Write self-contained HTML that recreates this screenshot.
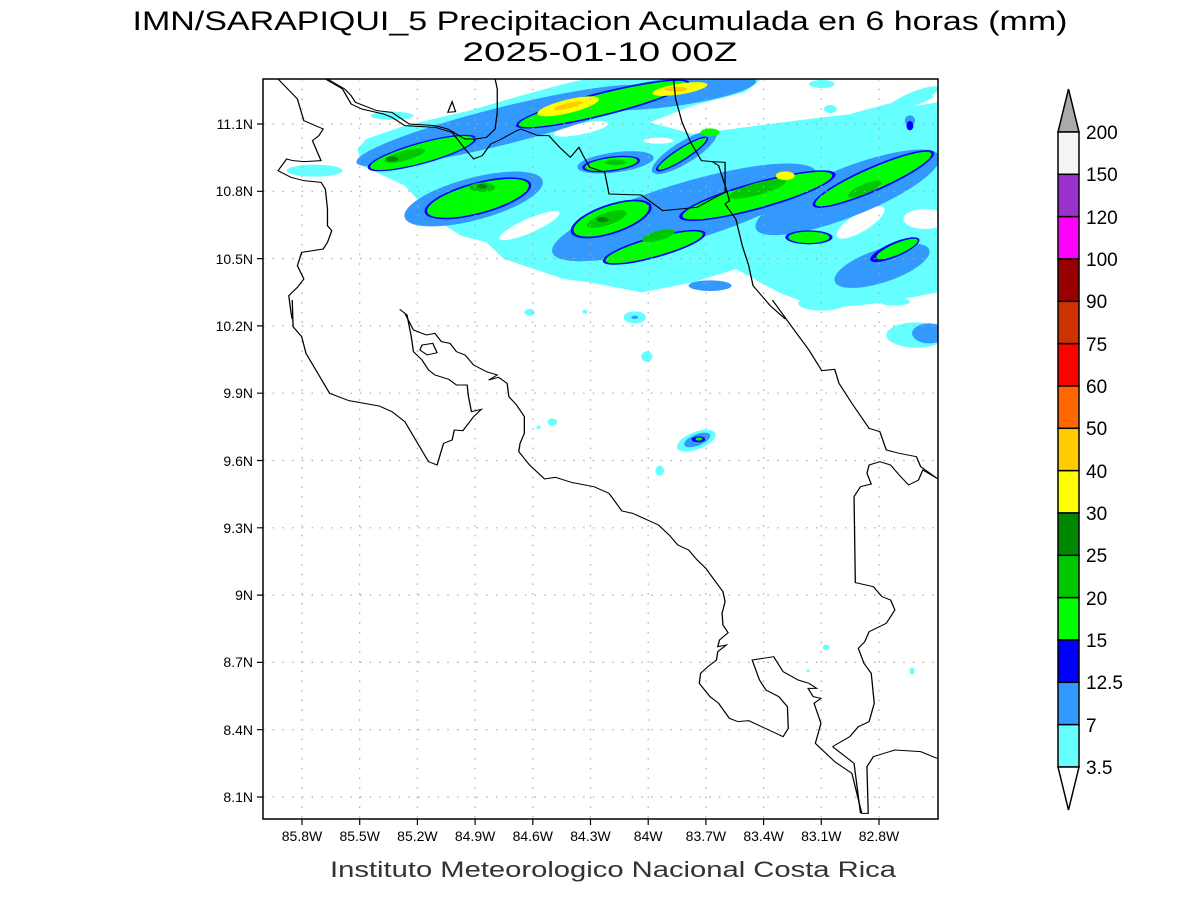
<!DOCTYPE html>
<html><head><meta charset="utf-8"><style>
html,body{margin:0;padding:0;background:#fff;}
svg{display:block;}
text{font-family:"Liberation Sans",sans-serif;}
</style></head><body>
<svg width="1200" height="900" viewBox="0 0 1200 900" xmlns="http://www.w3.org/2000/svg">
<defs><clipPath id="pc"><rect x="263" y="79" width="675" height="740"/></clipPath></defs>
<rect width="1200" height="900" fill="#fff"/>
<text x="600" y="30" font-size="27" text-anchor="middle" textLength="935" lengthAdjust="spacingAndGlyphs" fill="#000">IMN/SARAPIQUI_5 Precipitacion Acumulada en 6 horas (mm)</text>
<text x="600" y="61" font-size="27" text-anchor="middle" textLength="275" lengthAdjust="spacingAndGlyphs" fill="#000">2025-01-10 00Z</text>

<g clip-path="url(#pc)">
<g transform="translate(263,79) scale(0.42985,0.33333)">
<g fill="#66ffff">
<polygon points="220,210 240,180 330,140 480,95 600,50 700,15 750,0 1160,0 1120,40 1000,80 900,130 1000,165 1150,140 1300,115 1450,95 1568,70 1568,640 1450,670 1300,690 1200,640 1100,570 1000,610 880,640 760,610 700,600 560,540 520,490 460,470 400,420 330,320 280,290 230,260"/>
<ellipse cx="120" cy="275" rx="65" ry="18"/>
<ellipse cx="300" cy="110" rx="50" ry="12"/>
<ellipse cx="1300" cy="15" rx="30" ry="12"/>
<ellipse cx="1320" cy="90" rx="15" ry="12"/>
<ellipse cx="1400" cy="110" rx="170" ry="16" transform="rotate(-20 1400 110)"/>
<ellipse cx="1510" cy="60" rx="70" ry="18" transform="rotate(-30 1510 60)"/>
</g>
<g fill="#fff">
<ellipse cx="740" cy="150" rx="65" ry="16" transform="rotate(-15 740 150)"/>
<ellipse cx="920" cy="185" rx="35" ry="9"/>
<ellipse cx="990" cy="390" rx="55" ry="18" transform="rotate(-15 990 390)"/>
<ellipse cx="1390" cy="430" rx="70" ry="25" transform="rotate(-40 1390 430)"/>
<ellipse cx="1540" cy="420" rx="50" ry="30"/>
<ellipse cx="620" cy="440" rx="80" ry="20" transform="rotate(-30 620 440)"/>
</g>
<g fill="#3399ff">
<ellipse cx="560" cy="140" rx="360" ry="55" transform="rotate(-18 560 140)"/>
<ellipse cx="950" cy="40" rx="200" ry="42" transform="rotate(-10 950 40)"/>
<ellipse cx="490" cy="360" rx="170" ry="62" transform="rotate(-20 490 360)"/>
<ellipse cx="980" cy="400" rx="330" ry="85" transform="rotate(-22 980 400)"/>
<ellipse cx="1360" cy="340" rx="240" ry="70" transform="rotate(-28 1360 340)"/>
<ellipse cx="1440" cy="560" rx="120" ry="48" transform="rotate(-25 1440 560)"/>
<ellipse cx="1040" cy="620" rx="50" ry="16"/>
<ellipse cx="820" cy="250" rx="90" ry="30" transform="rotate(-10 820 250)"/>
<ellipse cx="980" cy="220" rx="95" ry="30" transform="rotate(-40 980 220)"/>
<ellipse cx="1505" cy="125" rx="12" ry="16"/>
</g>
<g fill="#0000ff">
<ellipse cx="370" cy="222" rx="134" ry="32" transform="rotate(-20 370 222)"/>
<ellipse cx="500" cy="358" rx="131" ry="47" transform="rotate(-20 500 358)"/>
<ellipse cx="790" cy="75" rx="212" ry="35" transform="rotate(-18 790 75)"/>
<ellipse cx="810" cy="255" rx="68" ry="22" transform="rotate(-10 810 255)"/>
<ellipse cx="975" cy="225" rx="78" ry="18" transform="rotate(-40 975 225)"/>
<ellipse cx="810" cy="420" rx="102" ry="43" transform="rotate(-25 810 420)"/>
<ellipse cx="1150" cy="350" rx="193" ry="40" transform="rotate(-20 1150 350)"/>
<ellipse cx="1420" cy="300" rx="162" ry="35" transform="rotate(-30 1420 300)"/>
<ellipse cx="1270" cy="475" rx="55" ry="21"/>
<ellipse cx="1470" cy="512" rx="65" ry="21" transform="rotate(-30 1470 512)"/>
<ellipse cx="910" cy="505" rx="127" ry="31" transform="rotate(-20 910 505)"/>
<ellipse cx="1505" cy="140" rx="8" ry="14"/>
</g>
<g fill="#00ff00">
<ellipse cx="370" cy="222" rx="128" ry="28" transform="rotate(-20 370 222)"/>
<ellipse cx="500" cy="358" rx="125" ry="42" transform="rotate(-20 500 358)"/>
<ellipse cx="790" cy="75" rx="205" ry="30" transform="rotate(-18 790 75)"/>
<ellipse cx="810" cy="255" rx="62" ry="18" transform="rotate(-10 810 255)"/>
<ellipse cx="975" cy="225" rx="72" ry="14" transform="rotate(-40 975 225)"/>
<ellipse cx="810" cy="420" rx="95" ry="38" transform="rotate(-25 810 420)"/>
<ellipse cx="1150" cy="350" rx="185" ry="35" transform="rotate(-20 1150 350)"/>
<ellipse cx="1420" cy="300" rx="155" ry="30" transform="rotate(-30 1420 300)"/>
<ellipse cx="1270" cy="475" rx="48" ry="17"/>
<ellipse cx="1475" cy="510" rx="55" ry="16" transform="rotate(-30 1475 510)"/>
<ellipse cx="910" cy="505" rx="120" ry="26" transform="rotate(-20 910 505)"/>
<ellipse cx="1040" cy="160" rx="22" ry="12"/>
</g>
<g fill="#00c800">
<ellipse cx="330" cy="230" rx="50" ry="14" transform="rotate(-20 330 230)"/>
<ellipse cx="510" cy="325" rx="30" ry="14"/>
<ellipse cx="800" cy="420" rx="50" ry="18" transform="rotate(-25 800 420)"/>
<ellipse cx="920" cy="470" rx="40" ry="14" transform="rotate(-20 920 470)"/>
<ellipse cx="1150" cy="330" rx="70" ry="18" transform="rotate(-20 1150 330)"/>
<ellipse cx="1400" cy="330" rx="45" ry="14" transform="rotate(-30 1400 330)"/>
<ellipse cx="820" cy="250" rx="25" ry="8"/>
</g>
<g fill="#008800">
<ellipse cx="300" cy="240" rx="14" ry="8"/>
<ellipse cx="510" cy="322" rx="12" ry="7"/>
<ellipse cx="790" cy="422" rx="14" ry="8"/>
</g>
<g fill="#ffff00">
<ellipse cx="710" cy="82" rx="75" ry="20" transform="rotate(-18 710 82)"/>
<ellipse cx="970" cy="30" rx="65" ry="16" transform="rotate(-12 970 30)"/>
<ellipse cx="1215" cy="290" rx="22" ry="13"/>
</g>
<g fill="#ffcc00">
<ellipse cx="710" cy="80" rx="35" ry="8" transform="rotate(-18 710 80)"/>
<ellipse cx="960" cy="30" rx="28" ry="7"/>
</g>
</g>
<g transform="translate(263,300) scale(0.42985,0.33333)">
<g fill="#66ffff">
<ellipse cx="620" cy="37" rx="12" ry="10"/>
<ellipse cx="749" cy="35" rx="6" ry="6"/>
<ellipse cx="865" cy="52" rx="26" ry="18"/>
<ellipse cx="893" cy="170" rx="13" ry="16"/>
<ellipse cx="673" cy="366" rx="11" ry="11"/>
<ellipse cx="641" cy="382" rx="5" ry="5"/>
<ellipse cx="1008" cy="422" rx="50" ry="25" transform="rotate(-30 1008 422)"/>
<ellipse cx="923" cy="512" rx="10" ry="15"/>
<ellipse cx="1310" cy="1042" rx="8" ry="8"/>
<ellipse cx="1268" cy="1112" rx="4" ry="4"/>
<ellipse cx="1510" cy="1113" rx="6" ry="10"/>
<ellipse cx="1300" cy="10" rx="55" ry="22"/>
<ellipse cx="1470" cy="5" rx="35" ry="12"/>
<ellipse cx="1520" cy="105" rx="70" ry="38"/>
</g>
<g fill="#3399ff">
<ellipse cx="865" cy="52" rx="8" ry="5"/>
<ellipse cx="1010" cy="420" rx="34" ry="16" transform="rotate(-30 1010 420)"/>
<ellipse cx="1550" cy="100" rx="40" ry="30"/>
</g>
<ellipse cx="1013" cy="418" rx="16" ry="9" fill="#0000ff"/>
<ellipse cx="1014" cy="417" rx="8" ry="5" fill="#00ff00"/>
</g>

<g stroke="#aaa" stroke-width="1.2" stroke-dasharray="1.5,8.2" fill="none">
<path d="M302 79V819M359.7 79V819M417.4 79V819M475.1 79V819M532.8 79V819M590.5 79V819M648.2 79V819M705.9 79V819M763.6 79V819M821.3 79V819M879 79V819"/>
<path d="M263 124H938M263 191.3H938M263 258.6H938M263 325.9H938M263 393.2H938M263 460.5H938M263 527.8H938M263 595.1H938M263 662.4H938M263 729.7H938M263 797H938"/>
</g>

<g transform="translate(263,79) scale(0.42985,0.33333)" fill="none" stroke="#000" stroke-width="3">
<polyline points="35,0 80,60 95,125 140,150 130,170 115,185 130,230 135,245 95,248 70,245 55,240 35,275 65,295 95,305 135,310 145,330 150,390 150,440 160,455 150,490 140,510 90,520 80,560 95,600 80,625 60,650 65,700 68,720"/>
<polyline points="145,0 185,30 205,75 230,90 280,105 300,115 330,140 400,145 440,160 470,210 490,240 510,230 530,195 555,180 590,155 600,150 640,170 665,170 690,205 715,235 735,205 745,230 760,265 795,280 805,345 880,348 930,395 1010,385 1045,360 1075,340 1075,250 1045,248"/>
<polyline points="150,0 190,30 205,50 215,70 265,95 300,100 340,135 400,140 430,150 470,180 495,180 520,175 540,150 545,100 545,30 540,0"/>
<polyline points="955,0 960,60 975,130 995,190 1020,245 1045,248 1060,260 1080,340 1085,365 1075,375 1100,420 1115,500 1130,560 1140,620 1180,680 1215,720"/>
<polygon points="430,100 440,68 448,98"/>
</g>
<g transform="translate(263,300) scale(0.42985,0.33333)" fill="none" stroke="#000" stroke-width="3">
<polyline points="68,0 70,80 90,110 100,160 155,280 200,302 270,318 300,335 330,365 385,485 405,495 420,430 440,420 445,390 465,392 490,350 508,328 485,335 478,290 475,255 450,255 432,238 400,225 385,210 370,180 350,155 345,110 335,45 318,28 330,40 350,90 380,105 400,100 415,125 435,130 450,155 470,165 490,195 520,215 545,225 525,240 548,232 568,250 572,290 590,315 608,350 608,400 598,430 595,455 620,495 655,537 680,532 720,548 770,560 805,580 835,633 860,640 920,675 945,705 965,735 990,750 1010,780 1030,805 1050,840 1070,875 1075,905 1068,940 1070,975 1082,998 1062,1020 1058,1040 1078,1035 1058,1055 1055,1080 1035,1100 1018,1120 1015,1150 1040,1190 1060,1210 1085,1255 1105,1265 1130,1262 1210,1310 1222,1285 1220,1220 1200,1190 1170,1170 1155,1140 1138,1080 1188,1070 1210,1115 1245,1140 1270,1150 1288,1165 1268,1165 1280,1190 1298,1195 1282,1210 1298,1270 1285,1330 1330,1385 1370,1420 1393,1540 1408,1540 1405,1400 1420,1370 1470,1350 1530,1355 1568,1375"/>
<polyline points="1325,1340 1365,1310 1385,1280 1410,1265 1422,1210 1415,1120 1398,1090 1385,1045 1400,1025 1410,995 1450,970 1470,930 1460,900 1440,890 1420,860 1378,848 1375,590 1390,560 1415,552 1405,520 1410,495 1435,485 1460,495 1480,525 1502,555 1525,540 1535,510 1568,535"/>
<polyline points="1325,1340 1375,1390 1390,1540"/>
<polyline points="1185,0 1230,80 1270,150 1300,212 1330,208 1340,250 1370,310 1410,385 1435,395 1450,450 1480,460 1520,470 1530,500 1568,535"/>
<polygon points="370,135 395,130 405,158 382,165 365,150"/>
</g>
</g>
<rect x="263" y="79" width="675" height="740" fill="none" stroke="#000" stroke-width="1.5"/>

<g stroke="#000" stroke-width="1.2">
<path d="M302 819v6M359.7 819v6M417.4 819v6M475.1 819v6M532.8 819v6M590.5 819v6M648.2 819v6M705.9 819v6M763.6 819v6M821.3 819v6M879 819v6"/>
<path d="M263 124h-6M263 191.3h-6M263 258.6h-6M263 325.9h-6M263 393.2h-6M263 460.5h-6M263 527.8h-6M263 595.1h-6M263 662.4h-6M263 729.7h-6M263 797h-6"/>
</g>
<g font-size="14" text-anchor="middle" fill="#000">
<text x="302" y="841">85.8W</text><text x="359.7" y="841">85.5W</text><text x="417.4" y="841">85.2W</text><text x="475.1" y="841">84.9W</text><text x="532.8" y="841">84.6W</text><text x="590.5" y="841">84.3W</text><text x="648.2" y="841">84W</text><text x="705.9" y="841">83.7W</text><text x="763.6" y="841">83.4W</text><text x="821.3" y="841">83.1W</text><text x="879" y="841">82.8W</text>
</g>
<g font-size="14" text-anchor="end" fill="#000">
<text x="253" y="129">11.1N</text><text x="253" y="196">10.8N</text><text x="253" y="264">10.5N</text><text x="253" y="331">10.2N</text><text x="253" y="398">9.9N</text><text x="253" y="466">9.6N</text><text x="253" y="533">9.3N</text><text x="253" y="600">9N</text><text x="253" y="667">8.7N</text><text x="253" y="735">8.4N</text><text x="253" y="802">8.1N</text>
</g>
<text x="613" y="877" font-size="22" text-anchor="middle" textLength="566" lengthAdjust="spacingAndGlyphs" fill="#333">Instituto Meteorologico Nacional Costa Rica</text>

<g stroke="#000" stroke-width="1.5">
<polygon points="1058,132 1079,132 1068.5,89" fill="#aaaaaa"/>
<rect x="1058" y="132" width="21" height="42.33" fill="#f4f4f4"/>
<rect x="1058" y="174.33" width="21" height="42.33" fill="#9932cc"/>
<rect x="1058" y="216.67" width="21" height="42.33" fill="#ff00ff"/>
<rect x="1058" y="259" width="21" height="42.33" fill="#990000"/>
<rect x="1058" y="301.33" width="21" height="42.33" fill="#cc3300"/>
<rect x="1058" y="343.67" width="21" height="42.33" fill="#ff0000"/>
<rect x="1058" y="386" width="21" height="42.33" fill="#ff6600"/>
<rect x="1058" y="428.33" width="21" height="42.33" fill="#ffcc00"/>
<rect x="1058" y="470.67" width="21" height="42.33" fill="#ffff00"/>
<rect x="1058" y="513" width="21" height="42.33" fill="#008800"/>
<rect x="1058" y="555.33" width="21" height="42.33" fill="#00c800"/>
<rect x="1058" y="597.67" width="21" height="42.33" fill="#00ff00"/>
<rect x="1058" y="640" width="21" height="42.33" fill="#0000ff"/>
<rect x="1058" y="682.33" width="21" height="42.33" fill="#3399ff"/>
<rect x="1058" y="724.67" width="21" height="42.33" fill="#66ffff"/>
<polygon points="1058,767 1079,767 1068.5,810" fill="#fff"/>
</g>
<g font-size="19" fill="#000">
<text x="1086" y="139">200</text><text x="1086" y="181">150</text><text x="1086" y="224">120</text><text x="1086" y="266">100</text><text x="1086" y="308">90</text><text x="1086" y="351">75</text><text x="1086" y="393">60</text><text x="1086" y="435">50</text><text x="1086" y="478">40</text><text x="1086" y="520">30</text><text x="1086" y="562">25</text><text x="1086" y="605">20</text><text x="1086" y="647">15</text><text x="1086" y="689">12.5</text><text x="1086" y="732">7</text><text x="1086" y="774">3.5</text>
</g>
</svg>
</body></html>
